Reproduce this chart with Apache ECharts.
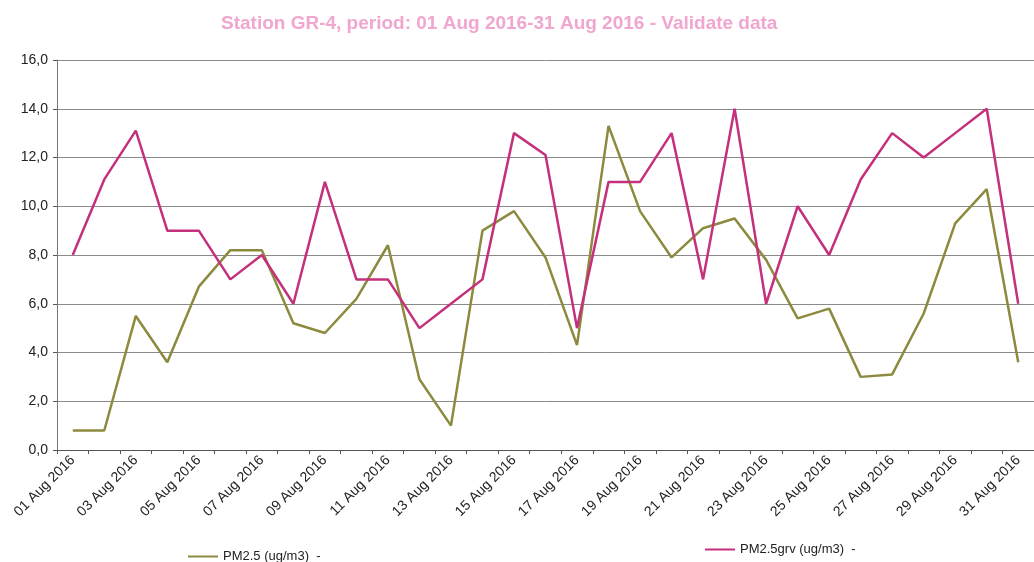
<!DOCTYPE html>
<html>
<head>
<meta charset="utf-8">
<script src="https://cdn.jsdelivr.net/npm/echarts@6/dist/echarts.min.js"></script>
<style>
    html, body { margin: 0; padding: 0; background: #fff; }
    #chart { width: 1034px; height: 562px; }
</style>
</head>
<body>
<div id="chart"></div>
<script>
// categories: 01 Aug 2016 .. 31 Aug 2016
var days = [
    "01 Aug 2016", "02 Aug 2016", "03 Aug 2016", "04 Aug 2016", "05 Aug 2016", "06 Aug 2016",
    "07 Aug 2016", "08 Aug 2016", "09 Aug 2016", "10 Aug 2016", "11 Aug 2016", "12 Aug 2016",
    "13 Aug 2016", "14 Aug 2016", "15 Aug 2016", "16 Aug 2016", "17 Aug 2016", "18 Aug 2016",
    "19 Aug 2016", "20 Aug 2016", "21 Aug 2016", "22 Aug 2016", "23 Aug 2016", "24 Aug 2016",
    "25 Aug 2016", "26 Aug 2016", "27 Aug 2016", "28 Aug 2016", "29 Aug 2016", "30 Aug 2016",
    "31 Aug 2016"
];

// PM2.5 (ug/m3)
var pm25 = [
    0.8, 0.8, 5.5, 3.6, 6.7, 8.2, 8.2, 5.2, 4.8, 6.2, 8.4, 2.9, 1.0, 9.0, 9.8, 7.9,
    4.3, 13.3, 9.8, 7.9, 9.1, 9.5, 7.8, 5.4, 5.8, 3.0, 3.1, 5.6, 9.3, 10.7, 3.6
];

// PM2.5grv (ug/m3)
var pm25grv = [
    8.0, 11.1, 13.1, 9.0, 9.0, 7.0, 8.0, 6.0, 11.0, 7.0, 7.0, 5.0, 6.0, 7.0, 13.0, 12.1,
    5.0, 11.0, 11.0, 13.0, 7.0, 14.0, 6.0, 10.0, 8.0, 11.1, 13.0, 12.0, 13.0, 14.0, 6.0
];

var seriesNames = ["PM2.5 (ug/m3)", "PM2.5grv (ug/m3)"];
var colGreen = "#8c8a3e";
var colPink = "#c4307c";

var chart = echarts.init(document.getElementById('chart'));

var legendText = {
    color: "#222",
    fontSize: 13,
    fontFamily: "Liberation Sans, Arial, sans-serif"
};

var option = {
    animation: false,
    backgroundColor: "#fff",
    title: {
        text: "Station GR-4, period: 01 Aug 2016-31 Aug 2016 - Validate data",
        left: 216,
        top: 9,
        textStyle: {
            color: "#f0a6cf",
            fontSize: 19,
            fontWeight: "bold",
            fontFamily: "Liberation Sans, Arial, sans-serif"
        }
    },
    legend: [
        {
            data: [seriesNames[0]],
            left: 183,
            top: 545,
            icon: "rect",
            itemWidth: 30,
            itemHeight: 2,
            itemGap: 4,
            formatter: function(name) { return name + "  -"; },
            textStyle: legendText
        },
        {
            data: [seriesNames[1]],
            left: 700,
            top: 538,
            icon: "rect",
            itemWidth: 30,
            itemHeight: 2,
            formatter: function(name) { return name + "  -"; },
            textStyle: legendText
        }
    ],
    grid: {
        left: 57,
        right: 0,
        top: 60,
        bottom: 112,
        containLabel: false
    },
    xAxis: {
        type: "category",
        data: days,
        boundaryGap: true,
        axisLine: { lineStyle: { color: "#555", width: 1 } },
        axisTick: { show: true, interval: 0, length: 4, lineStyle: { color: "#555" } },
        axisLabel: {
            interval: 1,
            rotate: 45,
            color: "#222",
            fontSize: 14,
            margin: 8,
            fontFamily: "Liberation Sans, Arial, sans-serif"
        },
        splitLine: { show: false }
    },
    yAxis: {
        type: "value",
        min: 0,
        max: 16,
        interval: 2,
        axisLine: { show: true, lineStyle: { color: "#777", width: 1 } },
        axisTick: { show: true, length: 4, lineStyle: { color: "#555" } },
        axisLabel: {
            color: "#222",
            fontSize: 14,
            margin: 9,
            fontFamily: "Liberation Sans, Arial, sans-serif",
            formatter: function(v) { return v.toFixed(1).replace(".", ","); }
        },
        splitLine: { show: true, lineStyle: { color: "#8a8a8a", width: 1 } }
    },
    series: [
        {
            name: seriesNames[0],
            type: "line",
            data: pm25,
            symbol: "none",
            color: colGreen,
            lineStyle: { color: colGreen, width: 2.5 }
        },
        {
            name: seriesNames[1],
            type: "line",
            data: pm25grv,
            symbol: "none",
            color: colPink,
            lineStyle: { color: colPink, width: 2.5 }
        }
    ]
};

chart.setOption(option);
</script>
</body>
</html>
